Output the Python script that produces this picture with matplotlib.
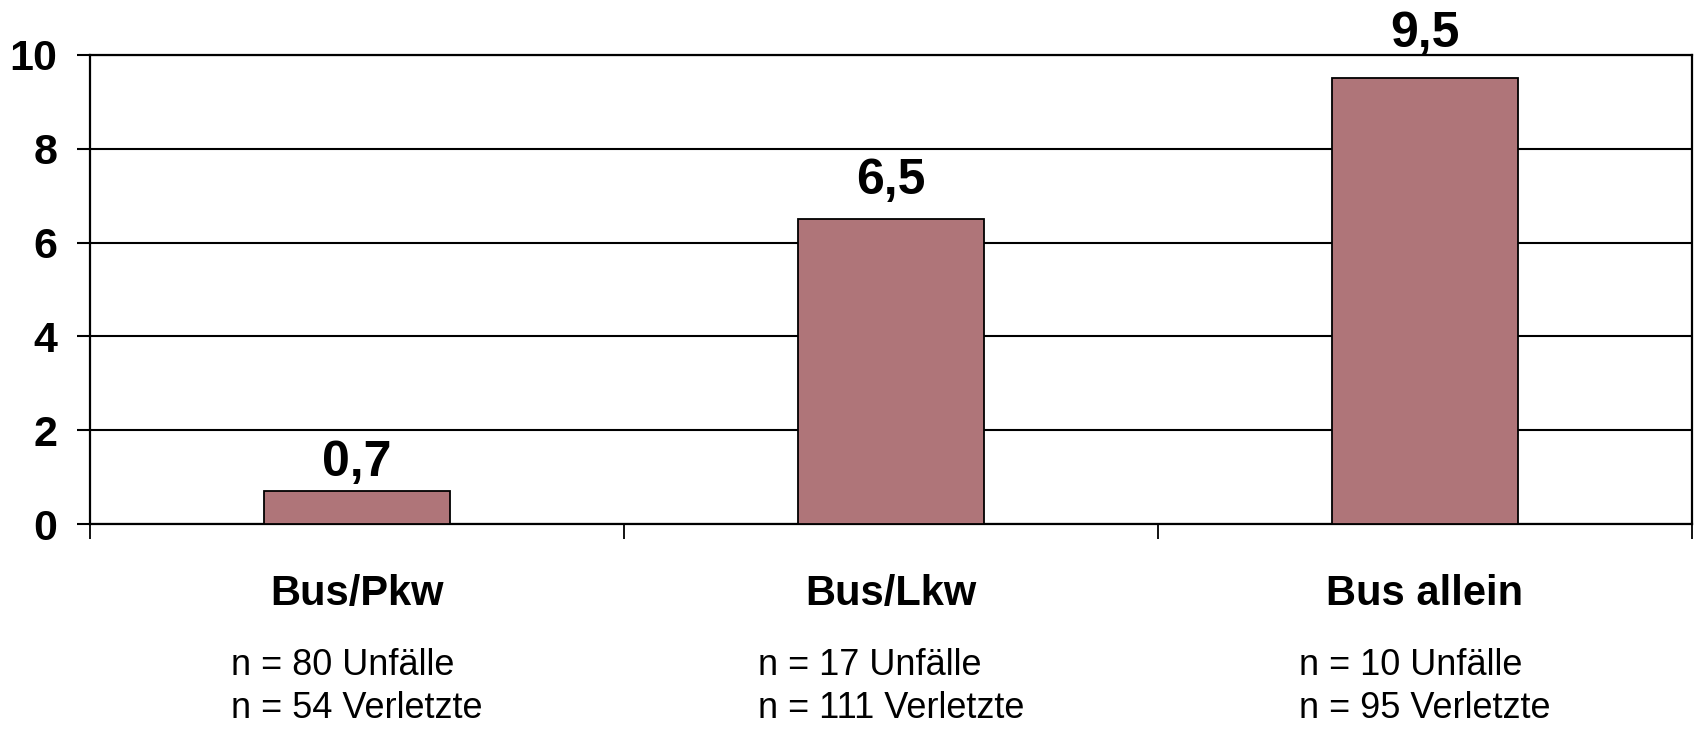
import matplotlib
matplotlib.use("Agg")
import matplotlib.pyplot as plt
from matplotlib.transforms import blended_transform_factory

categories = ["Bus/Pkw", "Bus/Lkw", "Bus allein"]
values = [0.7, 6.5, 9.5]
value_labels = ["0,7", "6,5", "9,5"]
unfaelle = [80, 17, 10]
verletzte = [54, 111, 95]
yticks = [0, 2, 4, 6, 8, 10]

plt.rcParams['font.family'] = ['Liberation Sans', 'DejaVu Sans']

W, H = 1694, 732
fig = plt.figure(figsize=(W / 100, H / 100), dpi=100)
ax = fig.add_axes([90 / W, 1 - 524 / H, (1692 - 90) / W, (524 - 55) / H])

x = list(range(len(categories)))
ax.bar(x, values, width=0.35, color="#AF7579", edgecolor="black", linewidth=1.3, zorder=3)

ax.set_xlim(-0.5, len(categories) - 0.5)
ax.set_ylim(0, 10)
ax.set_yticks(yticks)
ax.set_yticklabels([str(t) for t in yticks], fontsize=31, fontweight='bold')
ax.yaxis.grid(True, color="black", linewidth=1.5, zorder=1)
ax.set_axisbelow(True)

ax.set_xticks([i - 0.5 for i in range(len(categories) + 1)])
ax.set_xticklabels([])
ax.tick_params(axis='x', direction='out', length=11, width=1.3, color='black')
ax.tick_params(axis='y', direction='out', length=9.5, width=1.5, color='black', pad=14)

for s in ax.spines.values():
    s.set_color('black')
    s.set_linewidth(1.6)

for xi, v, lab in zip(x, values, value_labels):
    ax.annotate(lab, (xi, v), xytext=(0, 10 + 1.3 * v), textcoords='offset points',
                ha='center', va='baseline', fontsize=36, fontweight='bold')

tr = blended_transform_factory(ax.transData, fig.transFigure)
for xi, cat, u, vz in zip(x, categories, unfaelle, verletzte):
    ax.text(xi, 1 - 605 / H, cat, transform=tr, ha='center', va='baseline',
            fontsize=30, fontweight='bold')
    ax.text(xi, 1 - 718 / H, f"n = {u} Unfälle\nn = {vz} Verletzte", transform=tr,
            ha='center', va='baseline', multialignment='left', fontsize=26,
            linespacing=1.3)

fig.savefig("out.png", dpi=100)
